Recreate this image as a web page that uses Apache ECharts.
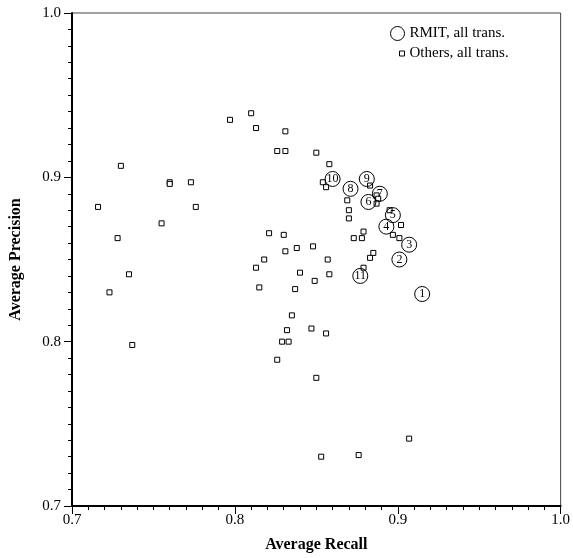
<!DOCTYPE html>
<html>
<head>
<meta charset="utf-8">
<script src="https://cdn.jsdelivr.net/npm/echarts@6/dist/echarts.min.js"></script>
<style>html,body{margin:0;padding:0;background:#fff}#c{width:573px;height:558px}</style>
</head>
<body>
<div id="c"></div>
<script>
// RMIT runs (numbered circles)
var rmitLabels = ['1','2','3','4','5','6','7','8','9','10','11'];
var rmitRecall = [0.915, 0.901, 0.907, 0.893, 0.897, 0.882, 0.889, 0.871, 0.881, 0.860, 0.877];
var rmitPrecision = [0.829, 0.850, 0.859, 0.870, 0.877, 0.885, 0.890, 0.893, 0.899, 0.899, 0.840];

// Other participants (small squares)
var othersRecall = [0.730, 0.760, 0.760, 0.773, 0.716, 0.776, 0.755, 0.728, 0.735, 0.723, 0.737,
  0.797, 0.810, 0.813, 0.831, 0.826, 0.831, 0.850, 0.858, 0.854, 0.856,
  0.883, 0.887, 0.888, 0.887, 0.869, 0.870, 0.870, 0.895, 0.902,
  0.879, 0.873, 0.878, 0.897, 0.901, 0.848, 0.857, 0.885, 0.883, 0.879,
  0.840, 0.858, 0.849, 0.821, 0.830, 0.831, 0.838, 0.818, 0.813, 0.815, 0.837,
  0.835, 0.832, 0.847, 0.856, 0.829, 0.833, 0.826, 0.850, 0.907, 0.853, 0.876];
var othersPrecision = [0.907, 0.897, 0.896, 0.897, 0.882, 0.882, 0.872, 0.863, 0.841, 0.830, 0.798,
  0.935, 0.939, 0.930, 0.928, 0.916, 0.916, 0.915, 0.908, 0.897, 0.894,
  0.895, 0.889, 0.887, 0.884, 0.886, 0.880, 0.875, 0.880, 0.871,
  0.867, 0.863, 0.863, 0.865, 0.863, 0.858, 0.850, 0.854, 0.851, 0.845,
  0.842, 0.841, 0.837, 0.866, 0.865, 0.855, 0.857, 0.850, 0.845, 0.833, 0.832,
  0.816, 0.807, 0.808, 0.805, 0.800, 0.800, 0.789, 0.778, 0.741, 0.730, 0.731];

var axisTicks = [0.7, 0.8, 0.9, 1.0];

var FONT = "'Liberation Serif', 'Times New Roman', serif";

var rmitData = rmitRecall.map(function (x, i) { return { value: [x, rmitPrecision[i]], name: rmitLabels[i] }; });
var othersData = othersRecall.map(function (x, i) { return [x, othersPrecision[i]]; });

function fmt(v) { return v.toFixed(1); }

var chart = echarts.init(document.getElementById('c'), null, { renderer: 'canvas' });
chart.setOption({
  animation: false,
  backgroundColor: '#fff',
  textStyle: { fontFamily: FONT },
  grid: { left: 70, right: 8, top: 13, bottom: 50, show: true, borderColor: '#444', borderWidth: 1, backgroundColor: 'transparent' },
  legend: [
    {
      data: ['RMIT, all trans.'], left: 390, top: 26, padding: 0, orient: 'vertical',
      icon: 'circle', itemWidth: 14, itemHeight: 14,
      itemStyle: { color: 'transparent', borderColor: '#000', borderWidth: 1 },
      textStyle: { fontFamily: FONT, fontSize: 15, color: '#000' }
    },
    {
      data: ['Others, all trans.'], left: 399, top: 46, padding: 0, orient: 'vertical',
      icon: 'rect', itemWidth: 5, itemHeight: 5,
      itemStyle: { color: 'transparent', borderColor: '#000', borderWidth: 1 },
      textStyle: { fontFamily: FONT, fontSize: 15, color: '#000' }
    }
  ],
  xAxis: {
    type: 'value', min: axisTicks[0], max: axisTicks[axisTicks.length - 1], interval: 0.1,
    name: 'Average Recall', nameLocation: 'middle', nameGap: 31,
    nameTextStyle: { fontFamily: FONT, fontSize: 16, fontWeight: 'bold', color: '#000' },
    axisLine: { show: true, onZero: false, lineStyle: { color: '#000', width: 2 } },
    axisTick: { show: true, inside: false, length: 8, lineStyle: { color: '#000', width: 1 } },
    minorTick: { show: true, splitNumber: 10, length: 4, lineStyle: { color: '#000', width: 1 } },
    axisLabel: { formatter: fmt, fontFamily: FONT, fontSize: 15, color: '#000', margin: 7 },
    splitLine: { show: false }
  },
  yAxis: {
    type: 'value', min: axisTicks[0], max: axisTicks[axisTicks.length - 1], interval: 0.1,
    name: 'Average Precision', nameLocation: 'middle', nameGap: 48,
    nameTextStyle: { fontFamily: FONT, fontSize: 16, fontWeight: 'bold', color: '#000' },
    axisLine: { show: true, onZero: false, lineStyle: { color: '#000', width: 2 } },
    axisTick: { show: true, inside: false, length: 8, lineStyle: { color: '#000', width: 1 } },
    minorTick: { show: true, splitNumber: 10, length: 4, lineStyle: { color: '#000', width: 1 } },
    axisLabel: { formatter: fmt, fontFamily: FONT, fontSize: 15, color: '#000', margin: 11 },
    splitLine: { show: false }
  },
  series: [
    {
      name: 'Others, all trans.', type: 'scatter', symbol: 'rect', symbolSize: 5,
      itemStyle: { color: '#fff', borderColor: '#000', borderWidth: 1, opacity: 1 },
      data: othersData, z: 2
    },
    {
      name: 'RMIT, all trans.', type: 'scatter', symbol: 'circle', symbolSize: 15,
      itemStyle: { color: 'transparent', borderColor: '#000', borderWidth: 1, opacity: 1 },
      label: { show: true, position: 'inside', formatter: '{b}', fontFamily: FONT, fontSize: 12, color: '#000' },
      data: rmitData, z: 3
    }
  ]
});
</script>
</body>
</html>
